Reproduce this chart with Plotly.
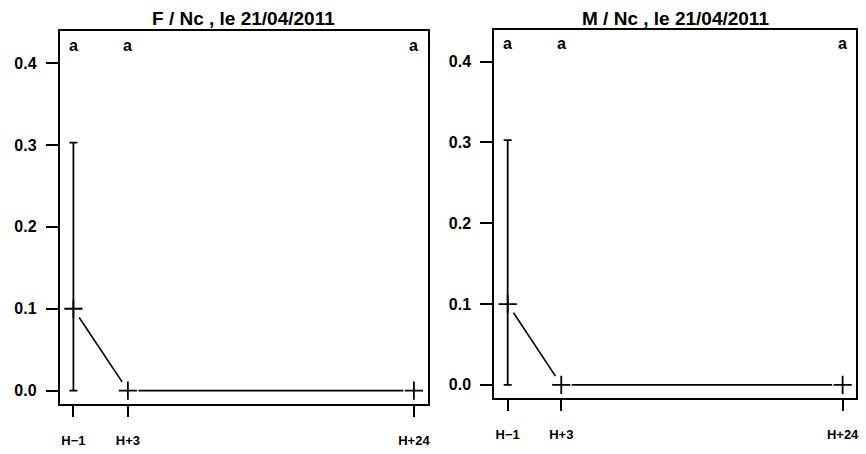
import math
import plotly.graph_objects as go

# ---- data ----
hours = [-1, 3, 24]
hour_labels = ["H\u22121", "H+3", "H+24"]
y_ticks = [0.0, 0.1, 0.2, 0.3, 0.4]
y_tick_labels = ["0.0", "0.1", "0.2", "0.3", "0.4"]

f_title = "F / Nc , le 21/04/2011"
f_means = [0.1, 0.0, 0.0]
f_err_plus = [0.203, 0.0, 0.0]
f_err_minus = [0.1, 0.0, 0.0]
f_letters = ["a", "a", "a"]

m_title = "M / Nc , le 21/04/2011"
m_means = [0.1, 0.0, 0.0]
m_err_plus = [0.203, 0.0, 0.0]
m_err_minus = [0.1, 0.0, 0.0]
m_letters = ["a", "a", "a"]

# ---- layout constants ----
W, H = 866, 454
XR = [-2, 25]
YR = [-0.0163, 0.4392]
LETTER_Y = 0.422
GAP = 10.5  # px gap around points (type = "b")
SANS = "Liberation Sans, Arial, Helvetica, sans-serif"

panels = [
    dict(title=f_title, means=f_means, ep=f_err_plus, em=f_err_minus, letters=f_letters,
         box=(60, 429, 31, 404)),
    dict(title=m_title, means=m_means, ep=m_err_plus, em=m_err_minus, letters=m_letters,
         box=(496, 859, 30, 398)),
]

fig = go.Figure()

for i, p in enumerate(panels):
    x0, x1, top, bot = p["box"]
    xa = "x" if i == 0 else "x2"
    ya = "y" if i == 0 else "y2"
    xkey = "xaxis" if i == 0 else "xaxis2"
    ykey = "yaxis" if i == 0 else "yaxis2"
    kx = (x1 - x0) / (XR[1] - XR[0])
    ky = (bot - top) / (YR[1] - YR[0])

    # gapped connecting segments (R type = "b")
    sx, sy = [], []
    for j in range(len(hours) - 1):
        ax_, ay_ = hours[j], p["means"][j]
        bx_, by_ = hours[j + 1], p["means"][j + 1]
        dx = (bx_ - ax_) * kx
        dy = (by_ - ay_) * ky
        L = math.hypot(dx, dy)
        if L <= 2 * GAP:
            continue
        f = GAP / L
        sx += [ax_ + (bx_ - ax_) * f, bx_ - (bx_ - ax_) * f, None]
        sy += [ay_ + (by_ - ay_) * f, by_ - (by_ - ay_) * f, None]
    fig.add_trace(go.Scatter(x=sx, y=sy, mode="lines", xaxis=xa, yaxis=ya,
                             line=dict(color="black", width=1.6), showlegend=False,
                             hoverinfo="skip"))

    # error bars (only where non-zero)
    ex = [h for h, a, b in zip(hours, p["ep"], p["em"]) if a or b]
    ey = [m for m, a, b in zip(p["means"], p["ep"], p["em"]) if a or b]
    eplus = [a for a, b in zip(p["ep"], p["em"]) if a or b]
    eminus = [b for a, b in zip(p["ep"], p["em"]) if a or b]
    fig.add_trace(go.Scatter(x=ex, y=ey, mode="markers", xaxis=xa, yaxis=ya,
                             marker=dict(size=1, color="rgba(0,0,0,0)"),
                             error_y=dict(type="data", array=eplus, arrayminus=eminus,
                                          symmetric=False, color="black",
                                          thickness=1.8, width=4),
                             showlegend=False, hoverinfo="skip"))

    # points
    fig.add_trace(go.Scatter(x=hours, y=p["means"], mode="markers", xaxis=xa, yaxis=ya,
                             marker=dict(symbol="cross-thin", size=13,
                                         line=dict(color="black", width=1.8)),
                             showlegend=False))

    # letters
    for h, t in zip(hours, p["letters"]):
        fig.add_annotation(x=h, y=LETTER_Y, xref=xa, yref=ya, text=t, showarrow=False,
                           xanchor="center", yanchor="middle",
                           font=dict(family=SANS, size=16, color="black", weight="bold"))

    # title
    fig.add_annotation(x=(x0 + x1) / 2 / W, y=(H - 19) / H, xref="paper", yref="paper",
                       text=p["title"], showarrow=False, xanchor="center", yanchor="middle",
                       font=dict(family=SANS, size=19, color="black", weight="bold"))

    fig.layout[xkey] = dict(domain=[x0 / W, x1 / W], range=XR, anchor=ya,
                            tickmode="array", tickvals=hours, ticktext=hour_labels,
                            ticks="outside", ticklen=11, tickwidth=1.8, tickcolor="black",
                            showline=True, linecolor="black", linewidth=2, mirror=True,
                            showgrid=False, zeroline=False, ticklabelstandoff=12,
                            tickfont=dict(family=SANS, size=13, color="black", weight="bold"))
    fig.layout[ykey] = dict(domain=[(H - bot) / H, (H - top) / H], range=YR, anchor=xa,
                            tickmode="array", tickvals=y_ticks, ticktext=y_tick_labels,
                            ticks="outside", ticklen=12, tickwidth=1.8, tickcolor="black",
                            showline=True, linecolor="black", linewidth=2, mirror=True,
                            showgrid=False, zeroline=False, ticklabelstandoff=6,
                            tickfont=dict(family=SANS, size=16, color="black", weight="bold"))

fig.update_layout(width=W, height=H, margin=dict(l=0, r=0, t=0, b=0),
                  paper_bgcolor="white", plot_bgcolor="white", showlegend=False)

fig.write_html("out.html", config={"displayModeBar": False},
               post_script="document.body.style.margin='0';document.body.style.overflow='hidden';")
